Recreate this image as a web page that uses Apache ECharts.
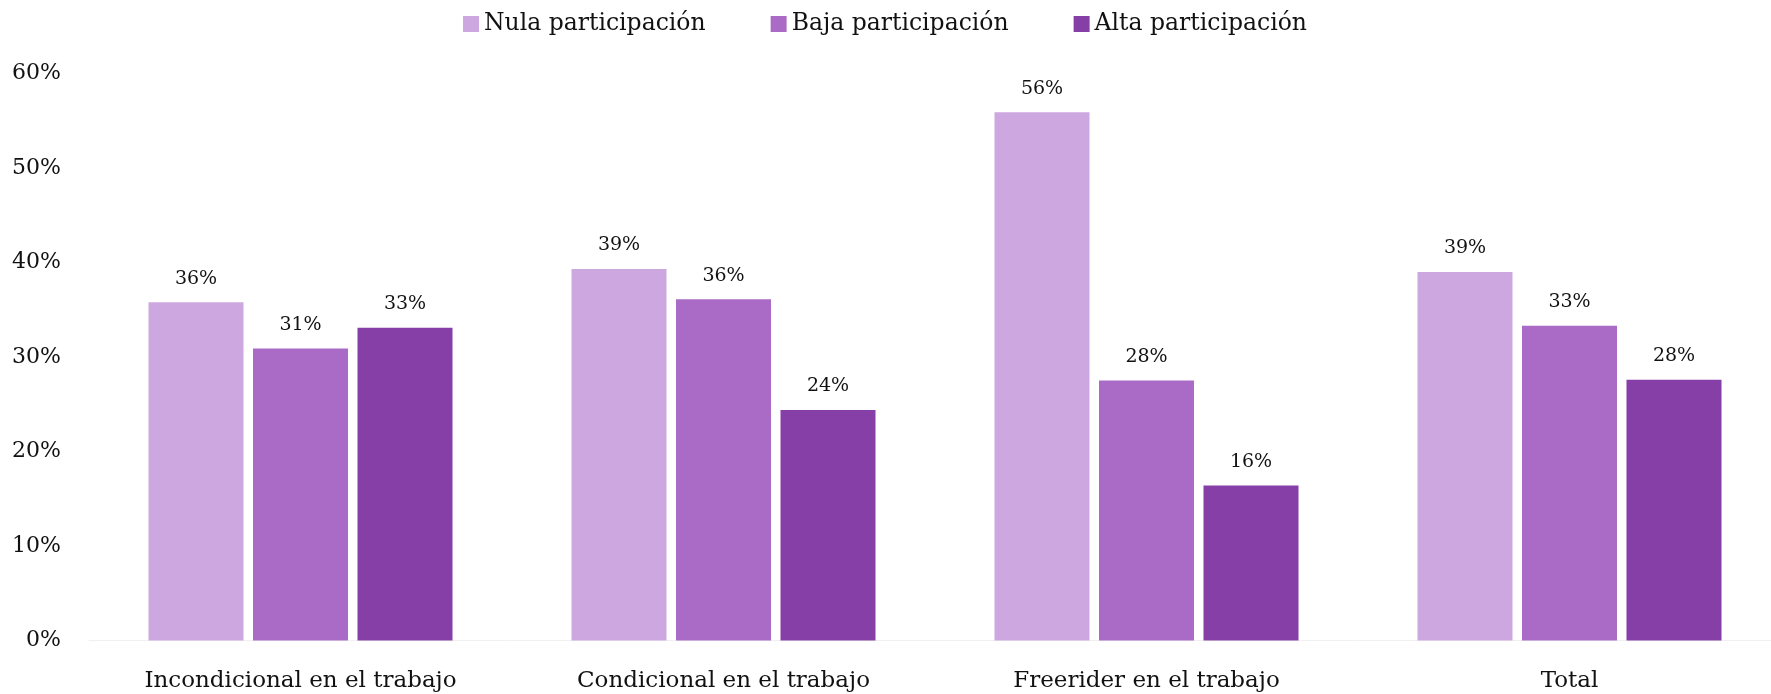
<!DOCTYPE html>
<html>
<head>
<meta charset="utf-8">
<script src="https://cdn.jsdelivr.net/npm/echarts@6/dist/echarts.min.js"></script>
<style>
    html, body { margin: 0; padding: 0; background: #fff; overflow: hidden; }
    #main { width: 1781px; height: 694px; }
</style>
</head>
<body>
<div id="main"></div>
<script>
// data (percent)
var categories = ['Incondicional en el trabajo', 'Condicional en el trabajo', 'Freerider en el trabajo', 'Total'];
var seriesNames = ['Nula participación', 'Baja participación', 'Alta participación'];
var nula = [35.8, 39.3, 55.9, 39.0];
var baja = [30.9, 36.1, 27.5, 33.3];
var alta = [33.1, 24.4, 16.4, 27.6];
var yTicks = [0, 10, 20, 30, 40, 50, 60];

var colors = ['#CCA7E0', '#AA6BC6', '#863FA6'];
var font = '"DejaVu Serif", serif';

// the plot runs a few px past the right edge of the window in the original,
// so the chart div is a bit wider than the page
var dom = document.getElementById('main');
var myChart = echarts.init(dom, null, {renderer: 'canvas'});

function barSeries(name, data) {
    return {
        name: name,
        type: 'bar',
        data: data,
        barWidth: 95,
        barGap: '10%',
        label: {
            show: true,
            position: 'top',
            distance: 14,
            color: '#111',
            fontFamily: font,
            fontSize: 19,
            formatter: function (p) {
                return Math.round(p.value) + '%';
            }
        }
    };
}

option = {
    animation: false,
    color: colors,
    textStyle: {fontFamily: font},
    legend: {
        left: 458,
        top: 7,
        itemWidth: 16,
        itemHeight: 16,
        itemGap: 65,
        icon: 'rect',
        textStyle: {
            fontFamily: font,
            fontSize: 23.5,
            color: '#111'
        },
        data: seriesNames
    },
    grid: {
        left: 89,
        right: 0,
        top: 73.4,
        bottom: 53.5
    },
    xAxis: {
        type: 'category',
        data: categories,
        axisTick: {show: false},
        axisLine: {
            lineStyle: {color: '#f0f0f0', width: 1}
        },
        axisLabel: {
            margin: 29,
            color: '#111',
            fontFamily: font,
            fontSize: 23
        }
    },
    yAxis: {
        type: 'value',
        min: yTicks[0],
        max: yTicks[yTicks.length - 1],
        interval: 10,
        splitLine: {show: false},
        axisLine: {show: false},
        axisTick: {show: false},
        axisLabel: {
            margin: 28,
            color: '#111',
            fontFamily: font,
            fontSize: 22,
            formatter: '{value}%'
        }
    },
    series: [
        barSeries(seriesNames[0], nula),
        barSeries(seriesNames[1], baja),
        barSeries(seriesNames[2], alta)
    ]
};

if (option && typeof option === "object") {
    myChart.setOption(option, true);
}
</script>
</body>
</html>
